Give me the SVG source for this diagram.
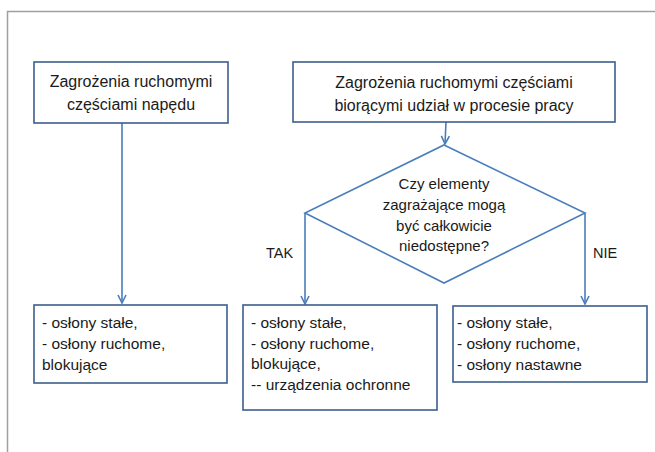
<svg xmlns="http://www.w3.org/2000/svg" width="655" height="452" viewBox="0 0 655 452">
<style>
.box{fill:#fff;stroke:#3b5e8c;stroke-width:1.6}
.con{fill:none;stroke:#4a7ebb;stroke-width:1.6}
.t{font-family:"Liberation Sans",Arial,sans-serif;fill:#1a1a1a}
.big{font-size:16px;text-anchor:middle}
.mid{font-size:15px;text-anchor:middle}
.lst{font-size:15.5px}
.lbl{font-size:14.5px}
</style>
<defs>
<marker id="arr" viewBox="0 0 10 10" refX="9" refY="5" markerWidth="10" markerHeight="10" markerUnits="userSpaceOnUse" orient="auto">
<polyline points="1,1 9,5 1,9" fill="none" stroke="#4a7ebb" stroke-width="1.6"/>
</marker>
</defs>
<rect width="655" height="452" fill="#fff"/>
<path d="M7.5,452 V11.5 H655" fill="none" stroke="#a0a0a0" stroke-width="1.5"/>
<g id="connectors">
<line class="con" x1="122" y1="123" x2="122" y2="303" marker-end="url(#arr)"/>
<line class="con" x1="446" y1="122" x2="445" y2="144" marker-end="url(#arr)"/>
<line class="con" x1="305" y1="213" x2="305" y2="304" marker-end="url(#arr)"/>
<line class="con" x1="585" y1="213" x2="585" y2="304" marker-end="url(#arr)"/>
<text class="t lbl" x="266" y="258">TAK</text>
<text class="t lbl" x="593" y="258">NIE</text>
</g>
<g id="n1">
<rect class="box" x="34" y="62" width="194" height="61"/>
<text class="t big" x="131" y="87">Zagrożenia ruchomymi</text>
<text class="t big" x="131" y="110">częściami napędu</text>
</g>
<g id="n2">
<rect class="box" x="293" y="62" width="322" height="60"/>
<text class="t big" x="454" y="88">Zagrożenia ruchomymi częściami</text>
<text class="t big" x="454" y="111">biorącymi udział w procesie pracy</text>
</g>
<g id="n3">
<polygon class="con" points="444,145 585,213 444,283 305,213"/>
<text class="t mid" x="444" y="189">Czy elementy</text>
<text class="t mid" x="444" y="210">zagrażające mogą</text>
<text class="t mid" x="444" y="231">być całkowicie</text>
<text class="t mid" x="444" y="251">niedostępne?</text>
</g>
<g id="n4">
<rect class="box" x="34" y="305" width="193" height="78"/>
<text class="t lst" x="42" y="328">- osłony stałe,</text>
<text class="t lst" x="42" y="349">- osłony ruchome,</text>
<text class="t lst" x="42" y="370">blokujące</text>
</g>
<g id="n5">
<rect class="box" x="243" y="305" width="194" height="105"/>
<text class="t lst" x="251" y="328">- osłony stałe,</text>
<text class="t lst" x="251" y="349">- osłony ruchome,</text>
<text class="t lst" x="251" y="369">blokujące,</text>
<text class="t lst" x="251" y="390">-- urządzenia ochronne</text>
</g>
<g id="n6">
<rect class="box" x="453" y="306" width="194" height="76"/>
<text class="t lst" x="457" y="328">- osłony stałe,</text>
<text class="t lst" x="457" y="349">- osłony ruchome,</text>
<text class="t lst" x="457" y="370">- osłony nastawne</text>
</g>
</svg>
